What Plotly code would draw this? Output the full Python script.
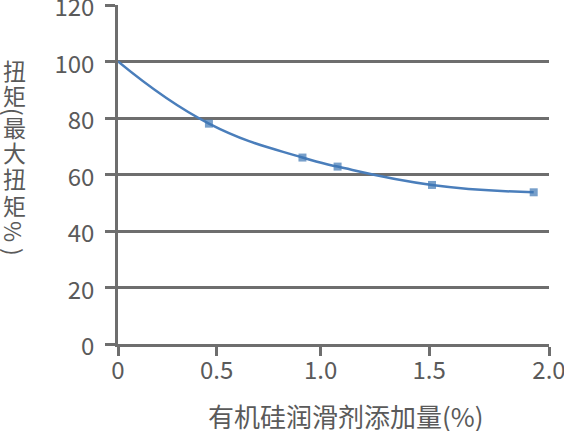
import plotly.graph_objects as go

# Data (x in axis-position units, y in % of max torque)
additive_pos = [0, 0.422, 0.856, 1.019, 1.457, 1.929]
torque_pct = [100, 78.0, 66.0, 62.8, 56.3, 53.7]
marker_sizes = [0, 8, 8, 8, 8, 8]

x_tick_pos = [0, 0.458, 0.940, 1.444, 2.0]
x_tick_text = ["0", "0.5", "1.0", "1.5", "2.0"]
y_tick_vals = [0, 20, 40, 60, 80, 100, 120]

x_title = "有机硅润滑剂添加量(%)"
y_title_chars = ["扭", "矩", "(", "最", "大", "扭", "矩", "%", ")"]

FONT = "Noto Sans CJK SC"
TXT = "#5a5a5a"
AX = "#6e6e6e"

fig = go.Figure()
fig.add_trace(go.Scatter(
    x=additive_pos, y=torque_pct,
    mode="lines+markers",
    line=dict(color="#4a7ebb", width=2.5, shape="spline", smoothing=1.3),
    marker=dict(symbol="square", size=marker_sizes, color="#3d76b3",
                line=dict(width=0)),
    showlegend=False, cliponaxis=False,
))

W, H = 564, 431
ml, mr, mt, mb = 118, 15, 5, 87
pw, ph = W - ml - mr, H - mt - mb

annotations = []
# y-axis title: stacked upright characters (brackets and % turned sideways)
y_title_px = [70, 95, 112, 127, 152, 178, 205, 231, 252]
for ch, py in zip(y_title_chars, y_title_px):
    annotations.append(dict(
        text=ch, xref="paper", yref="paper",
        x=(14 - ml) / pw, y=(H - mb - py) / ph,
        xanchor="center", yanchor="middle", showarrow=False,
        textangle=90 if ch in "()%" else 0,
        font=dict(family=FONT, size=23, color=TXT),
    ))
annotations.append(dict(
    text=x_title, xref="paper", yref="paper",
    x=(346 - ml) / pw, y=(H - mb - 416) / ph,
    xanchor="center", yanchor="middle", showarrow=False,
    font=dict(family=FONT, size=26, color=TXT),
))

fig.update_layout(
    width=W, height=H,
    margin=dict(l=ml, r=mr, t=mt, b=mb, autoexpand=False),
    paper_bgcolor="white", plot_bgcolor="white",
    font=dict(family=FONT, color=TXT),
    annotations=annotations,
    xaxis=dict(
        range=[0, 2.0], tickvals=x_tick_pos, ticktext=x_tick_text,
        showline=True, linecolor=AX, linewidth=2.5,
        ticks="outside", ticklen=9, tickwidth=2.5, tickcolor=AX,
        showgrid=False, zeroline=False, ticklabelstandoff=-6,
        ticklabeloverflow="allow", automargin=False,
        tickfont=dict(family=FONT, size=24, color=TXT),
    ),
    yaxis=dict(
        range=[0, 120], tickvals=y_tick_vals,
        showline=True, linecolor=AX, linewidth=2.5,
        ticks="outside", ticklen=10, tickwidth=2.5, tickcolor=AX,
        showgrid=True, gridcolor=AX, gridwidth=2.5, zeroline=False,
        ticklabelstandoff=6, ticklabelshift=3,
        ticklabeloverflow="allow", automargin=False,
        tickfont=dict(family=FONT, size=24, color=TXT),
    ),
)

fig.write_html("out.html")
